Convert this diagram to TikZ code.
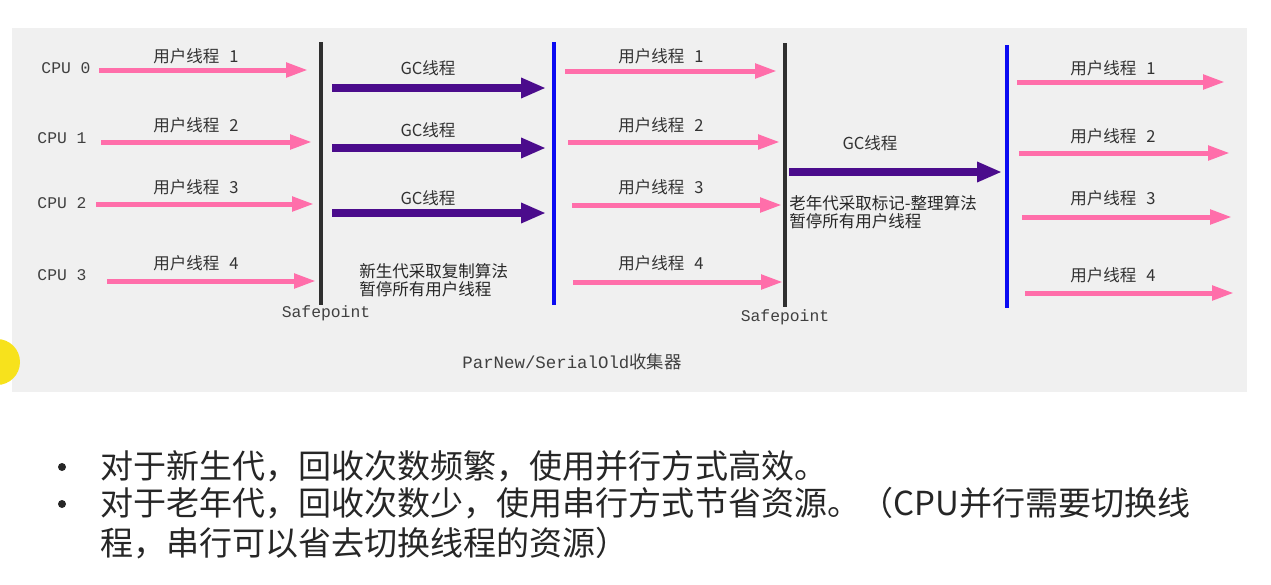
\documentclass[tikz,border=0pt]{standalone}
\usepackage{fontspec}
\setmonofont{Liberation Mono}
\newfontfamily\cjk{Noto Sans CJK SC}
\usepackage{tikz}
\usetikzlibrary{
	arrows.meta,
	positioning
}
\usepackage{xcolor}
\definecolor{panelgray}{HTML}{F0F0F0}
\definecolor{userpink}{HTML}{FF6EAA}
\definecolor{gcpurple}{HTML}{4B0C8C}
\definecolor{barblue}{HTML}{0B0BF2}
\definecolor{bargray}{HTML}{2F2F2F}
\definecolor{markyellow}{HTML}{F7E21C}

\begin{document}
\begin{tikzpicture}[
		x=0.2mm,
		y=-0.2mm,
		userarrow/.style={
			draw=userpink,
			line width=1mm,
			-{Triangle[length=4.4mm,width=2.8mm]}
		},
		gcarrow/.style={
			draw=gcpurple,
			line width=1.6mm,
			-{Triangle[length=5mm,width=3.8mm]}
		},
		barline/.style={
			line width=0.8mm
		},
		monolabel/.style={
			font=\ttfamily\fontsize{9.3}{11}\selectfont,
			text=black!75,
			inner sep=0pt
		},
		threadlabel/.style={
			font=\cjk\fontsize{9.4}{11}\selectfont,
			text=black!80,
			inner sep=0pt
		},
		note/.style={
			font=\cjk\fontsize{9.4}{10.4}\selectfont,
			text=black!85,
			align=left,
			anchor=west,
			inner sep=0pt
		},
		bullettext/.style={
			font=\cjk\fontsize{18.8}{22}\selectfont,
			text=black!85,
			anchor=west,
			inner sep=0pt
		},
		bulletdot/.style={
			circle,
			fill=black!85,
			inner sep=0pt,
			minimum size=1.6mm
		}
		]
		
		\useasboundingbox (0,0) rectangle (1271,585);
		
		% Panel
		\fill[panelgray] (12,28) rectangle (1247,392);
		\begin{scope}
			\clip (0,0) rectangle (1271,585);
			\fill[markyellow] (-3,362) circle (4.6mm);
		\end{scope}
		
		% Safepoint and end bars
		\coordinate (safe1t) at (321,42);
		\coordinate (safe1b) at (321,305);
		\coordinate (end1t) at (554,42);
		\coordinate (end1b) at (554,305);
		\coordinate (safe2t) at (785,43);
		\coordinate (safe2b) at (785,307);
		\coordinate (end2t) at (1007,45);
		\coordinate (end2b) at (1007,308);
		\draw[barline,bargray] (safe1t) -- (safe1b);
		\draw[barline,barblue] (end1t) -- (end1b);
		\draw[barline,bargray] (safe2t) -- (safe2b);
		\draw[barline,barblue] (end2t) -- (end2b);
		\node[monolabel] (safe1) at (326,313) {Safepoint};
		\node[monolabel] (safe2) at (785,317) {Safepoint};
		
		% User threads before first safepoint
		\foreach \i/\n/\cx/\cy/\xa/\xb/\y/\ly in {0/1/66/68/99/308/70/56, 1/2/62/138/101/312/142/125, 2/3/62/203/96/314/204/187, 3/4/62/275/107/316/281/263}
		{
			\node[monolabel] (cpu\i) at (\cx,\cy) {CPU \i};
			\coordinate (ua\i) at (\xa,\y);
			\coordinate (ub\i) at (\xb,\y);
			\draw[userarrow] (ua\i) -- (ub\i);
			\node[threadlabel] (ul\i) at (196,\ly) {用户线程\hspace{0.6em}\n};
		}
		
		% Parallel GC threads
		\foreach \i/\y/\ly in {1/88/68, 2/148/130, 3/213/198}
		{
			\coordinate (ga\i) at (332,\y);
			\coordinate (gb\i) at (546,\y);
			\draw[gcarrow] (ga\i) -- (gb\i);
			\node[threadlabel] (gl\i) at (428,\ly) {GC线程};
		}
		\node[note] (younote) at (359,280) {新生代采取复制算法\\暂停所有用户线程};
		
		% User threads between the two pauses
		\foreach \i/\n/\xa/\xb/\y/\ly in {0/1/565/777/71/56, 1/2/568/780/142/125, 2/3/572/782/205/187, 3/4/573/783/282/263}
		{
			\coordinate (va\i) at (\xa,\y);
			\coordinate (vb\i) at (\xb,\y);
			\draw[userarrow] (va\i) -- (vb\i);
			\node[threadlabel] (vl\i) at (661,\ly) {用户线程\hspace{0.6em}\n};
		}
		
		% Serial GC thread
		\coordinate (oa) at (789,172);
		\coordinate (ob) at (1002,172);
		\draw[gcarrow] (oa) -- (ob);
		\node[threadlabel] (ol) at (870,143) {GC线程};
		\node[note] (oldnote) at (789,212) {老年代采取标记-整理算法\\暂停所有用户线程};
		
		% User threads after second pause
		\foreach \i/\n/\xa/\xb/\y/\ly in {0/1/1017/1225/82/68, 1/2/1019/1230/153/136, 2/3/1022/1232/217/198, 3/4/1025/1234/293/275}
		{
			\coordinate (wa\i) at (\xa,\y);
			\coordinate (wb\i) at (\xb,\y);
			\draw[userarrow] (wa\i) -- (wb\i);
			\node[threadlabel] (wl\i) at (1113,\ly) {用户线程\hspace{0.6em}\n};
		}
		
		\node[monolabel,font=\ttfamily\fontsize{9.9}{12}\selectfont] (title) at (572,362) {ParNew/SerialOld{\cjk 收集器}};
		
		% Notes below
		\node[bulletdot] (dot1) at (62,467) {};
		\node[bullettext] (line1) at (100,466) {对于新生代，回收次数频繁，使用并行方式高效。};
		\node[bulletdot] (dot2) at (62,504) {};
		\node[bullettext] (line2) at (100,503) {对于老年代，回收次数少，使用串行方式节省资源。（CPU并行需要切换线};
		\node[bullettext] (line3) at (100,543) {程，串行可以省去切换线程的资源）};
		
	\end{tikzpicture}
\end{document}
